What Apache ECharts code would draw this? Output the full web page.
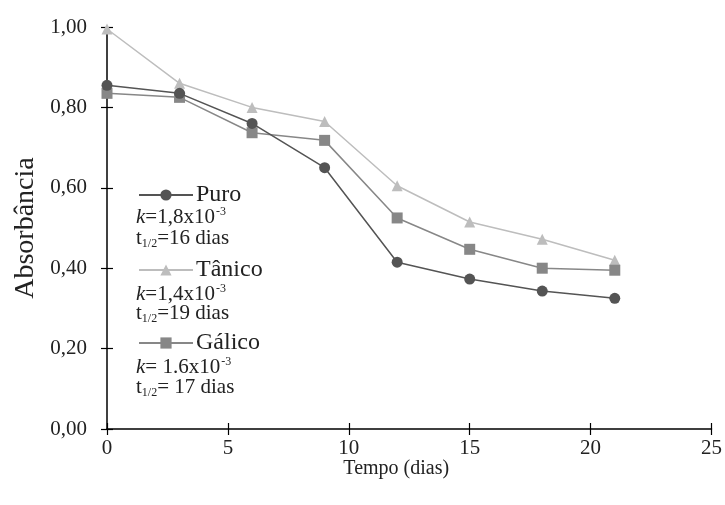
<!DOCTYPE html>
<html>
<head>
<meta charset="utf-8">
<script src="https://cdn.jsdelivr.net/npm/echarts@6/dist/echarts.min.js"></script>
<style>html,body{margin:0;padding:0;background:#fff}#c{width:725px;height:505px}</style>
</head>
<body>
<div id="c"></div>
<script>
const days = [0, 3, 6, 9, 12, 15, 18, 21];
const puro = [0.855, 0.835, 0.76, 0.65, 0.415, 0.373, 0.343, 0.325];
const tanico = [0.995, 0.86, 0.80, 0.765, 0.605, 0.515, 0.472, 0.42];
const galico = [0.835, 0.825, 0.737, 0.718, 0.525, 0.447, 0.40, 0.395];
const seriesNames = ['Puro', 'Tânico', 'Gálico'];
const kValues = ['1,8', '1,4', ' 1.6'];
const halfLives = ['16', '19', ' 17'];
const xTicks = [0, 5, 10, 15, 20, 25];
const yTicks = [0, 0.2, 0.4, 0.6, 0.8, 1.0];

const FONT = '"Liberation Serif", "Times New Roman", serif';
const colors = ['#545454', '#bdbdbd', '#878787'];
const symbols = ['circle', 'triangle', 'rect'];
const sizes = [11, 11, 11];
const allData = [puro, tanico, galico];

const chart = echarts.init(document.getElementById('c'), null, {renderer: 'canvas'});

const grid = {left: 107, right: 12, top: 27, bottom: 76};
function yFmt(v){ return v.toFixed(2).replace('.', ','); }

const series = allData.map((arr, i) => ({
  name: seriesNames[i],
  type: 'line',
  xAxisIndex: 0, yAxisIndex: 0,
  data: days.map((d, j) => [d, arr[j]]),
  symbol: symbols[i],
  symbolSize: sizes[i],
  lineStyle: {color: colors[i], width: 1.5},
  itemStyle: {color: colors[i]},
  z: i === 1 ? 2 : (i === 2 ? 3 : 4)
}));

const legendCenters = [195, 270, 343];
const kCenters = [216, 293, 366];
const tCenters = [238, 313, 387];
const TXT = 21;

const graphics = [];
for (let i = 0; i < 3; i++) {
  graphics.push({
    type: 'text', left: 136, top: kCenters[i] - 10,
    style: {
      text: '{i|k}{n|=' + kValues[i] + 'x10}{s|-3}',
      rich: {
        i: {fontFamily: FONT, fontSize: TXT, fontStyle: 'italic', fill: '#222'},
        n: {fontFamily: FONT, fontSize: TXT, fill: '#222'},
        s: {fontFamily: FONT, fontSize: 12, fill: '#222', padding: [0, 0, 10, 1]}
      }
    }
  });
  graphics.push({
    type: 'text', left: 136, top: tCenters[i] - 10,
    style: {
      text: '{n|t}{s|1/2}{n|=' + halfLives[i] + ' dias}',
      rich: {
        n: {fontFamily: FONT, fontSize: TXT, fill: '#222'},
        s: {fontFamily: FONT, fontSize: 12, fill: '#222', padding: [10, 0, 0, 0]}
      }
    }
  });
}

const legends = seriesNames.map((name, i) => ({
  data: [name],
  orient: 'vertical',
  left: 138,
  top: legendCenters[i] - 12,
  padding: 0,
  itemWidth: 54,
  itemHeight: 14,
  itemGap: 0,
  textStyle: {fontFamily: FONT, fontSize: 24, color: '#222', padding: [0, 0, 0, -2]},
  selectedMode: false
}));

const option = {
  backgroundColor: '#fff',
  animation: false,
  grid: grid,
  legend: legends,
  xAxis: [{
    type: 'value', min: 0, max: 25, interval: 5,
    name: 'Tempo (dias)', nameLocation: 'middle', nameGap: 30, nameMoveOverlap: false,
    nameTextStyle: {fontFamily: FONT, fontSize: 20, color: '#222', padding: [0, 26, 0, 0]},
    axisLine: {lineStyle: {color: '#000', width: 1.5}},
    axisTick: {show: true, length: 6, lineStyle: {color: '#000', width: 1.2}},
    axisLabel: {fontFamily: FONT, fontSize: 21, color: '#222', margin: 9},
    splitLine: {show: false}
  }, {
    type: 'value', min: 0, max: 25, interval: 5, position: 'bottom', show: true,
    axisLine: {show: false},
    axisTick: {show: true, inside: true, length: 6, lineStyle: {color: '#000', width: 1.2}},
    axisLabel: {show: false}, splitLine: {show: false}
  }],
  yAxis: [{
    type: 'value', min: 0, max: 1, interval: 0.2,
    name: 'Absorbância', nameLocation: 'middle', nameGap: 67, nameRotate: 90,
    nameTextStyle: {fontFamily: FONT, fontSize: 28, color: '#222'},
    axisLine: {show: true, lineStyle: {color: '#000', width: 1.5}},
    axisTick: {show: true, length: 6, lineStyle: {color: '#000', width: 1.2}},
    axisLabel: {fontFamily: FONT, fontSize: 21, color: '#222', margin: 20, formatter: yFmt},
    splitLine: {show: false}
  }, {
    type: 'value', min: 0, max: 1, interval: 0.2, position: 'left', show: true,
    axisLine: {show: false},
    axisTick: {show: true, inside: true, length: 6, lineStyle: {color: '#000', width: 1.2}},
    axisLabel: {show: false}, splitLine: {show: false}
  }],
  series: series.concat([
    {type: 'line', xAxisIndex: 1, yAxisIndex: 1, data: [], silent: true}
  ]),
  graphic: graphics
};
chart.setOption(option);
</script>
</body>
</html>
